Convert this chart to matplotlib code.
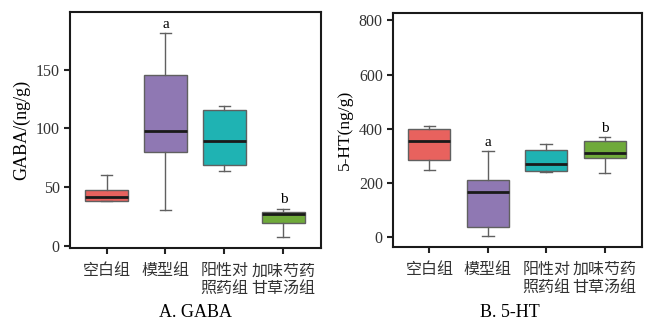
import matplotlib
matplotlib.use('Agg')
import matplotlib.pyplot as plt

plt.rcParams['font.family'] = ['Liberation Serif', 'Noto Sans CJK SC']
plt.rcParams['axes.unicode_minus'] = False

# groups
cats = ['空白组', '模型组', '阳性对\n照药组', '加味芍药\n甘草汤组']
colors = ['#E8625E', '#8F78B3', '#1FB3B3', '#6FAA3A']

# GABA (ng/g) box stats
gaba_low = [38, 30, 64, 7.5]
gaba_q1 = [38, 79.5, 68.5, 19]
gaba_med = [41.5, 98, 89, 27]
gaba_q3 = [47.5, 145, 115.5, 29]
gaba_high = [60, 181, 119, 31.5]
gaba_sig = ['', 'a', '', 'b']

# 5-HT (ng/g) box stats
ht_low = [246, 4, 240, 238]
ht_q1 = [284, 38, 244, 292]
ht_med = [354, 167, 271, 310]
ht_q3 = [399, 210, 321, 354]
ht_high = [409, 319, 344, 369]
ht_sig = ['', 'a', '', 'b']


def make_stats(lo, q1, med, q3, hi):
    return [dict(whislo=a, q1=b, med=c, q3=d, whishi=e, fliers=[])
            for a, b, c, d, e in zip(lo, q1, med, q3, hi)]


def draw(ax, stats, sig, ylim, yticks, ylabel, off, ylsize):
    pos = list(range(len(stats)))
    bp = ax.bxp(stats, positions=pos, widths=0.72, capwidths=0.2,
                patch_artist=True, showfliers=False,
                boxprops=dict(edgecolor='#606060', linewidth=1.0),
                whiskerprops=dict(color='#606060', linewidth=1.0),
                capprops=dict(color='#606060', linewidth=1.0),
                medianprops=dict(color='#1a1a1a', linewidth=2.0))
    for patch, c in zip(bp['boxes'], colors):
        patch.set_facecolor(c)
    for p, s, st in zip(pos, sig, stats):
        if s:
            ax.text(p, st['whishi'] + off, s, ha='center', va='bottom', fontsize=11)
    ax.set_xlim(-0.62, 3.64)
    ax.set_ylim(*ylim)
    ax.set_yticks(yticks)
    ax.set_xticks(pos)
    ax.set_xticklabels(cats, fontsize=11.5, linespacing=1.15)
    ax.set_ylabel(ylabel, fontsize=ylsize, labelpad=4)
    ax.tick_params(axis='both', direction='out', length=4, width=1.5,
                   labelsize=11.5, colors='#222222', labelcolor='#333333')
    ax.tick_params(axis='x', pad=7)
    for sp in ax.spines.values():
        sp.set_linewidth(1.5)
        sp.set_color('#1a1a1a')


fig = plt.figure(figsize=(6.46, 3.22), dpi=100)
ax1 = fig.add_axes([0.1084, 0.2298, 0.3886, 0.7329])
ax2 = fig.add_axes([0.6088, 0.2339, 0.3850, 0.7267])

draw(ax1, make_stats(gaba_low, gaba_q1, gaba_med, gaba_q3, gaba_high), gaba_sig,
     (-2, 199), [0, 50, 100, 150], 'GABA/(ng/g)', 2, 13)
draw(ax2, make_stats(ht_low, ht_q1, ht_med, ht_q3, ht_high), ht_sig,
     (-35, 828), [0, 200, 400, 600, 800], '5-HT(ng/g)', 8, 12.5)

fig.text(0.302, 0.031, 'A. GABA', ha='center', va='center', fontsize=13)
fig.text(0.790, 0.031, 'B. 5-HT', ha='center', va='center', fontsize=13)

fig.savefig('out.png', dpi=100)
